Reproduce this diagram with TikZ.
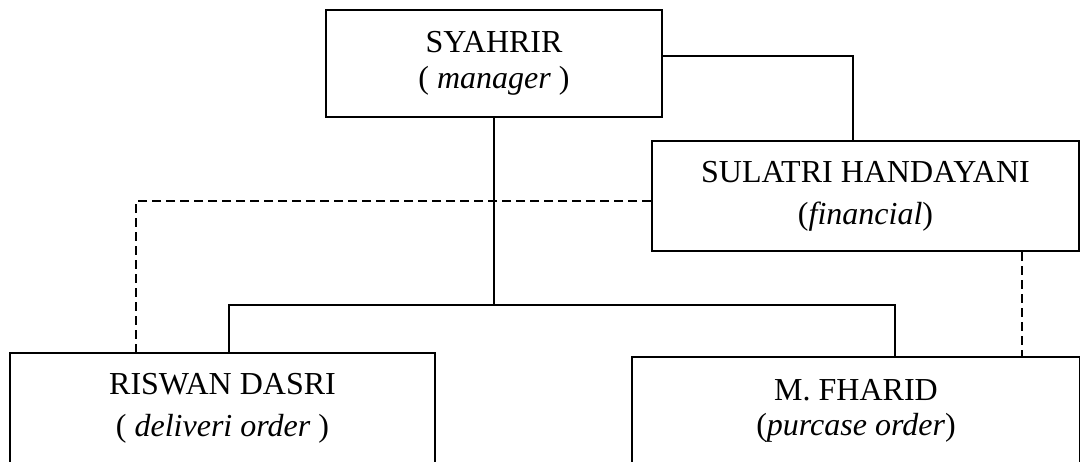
\documentclass[tikz,border=0pt]{standalone}
\usepackage{fontspec}
\setmainfont{Liberation Serif}
\usetikzlibrary{calc}

\begin{document}
\begin{tikzpicture}[
    x=0.5pt, y=-0.5pt,
    line width=1pt,
    person/.style={draw, rectangle, inner sep=0pt, align=center,
      font=\fontsize{16}{18}\selectfont},
    liaison/.style={dashed, dash pattern=on 4.5pt off 2.5pt}
  ]
  \useasboundingbox (0,0) rectangle (1080,461);
  \clip (0,0) rectangle (1080,461);

  % staff boxes
  \node[person, minimum width=168pt, minimum height=53.5pt] (sy) at (494,63.5)
    {SYAHRIR\\( \textit{manager} )};
  \node[person, minimum width=213.5pt, minimum height=55pt] (su) at (865.5,196)
    {SULATRI HANDAYANI\\[3pt](\textit{financial})};
  \node[person, minimum width=212.5pt, minimum height=55pt] (ri) at (222.5,408)
    {RISWAN DASRI\\[3pt]( \textit{deliveri order} )};
  \node[person, minimum width=224pt, minimum height=54pt] (fh) at (856,411)
    {M. FHARID\\[-0.5pt](\textit{purcase order})};

  % line of command
  \coordinate (bus) at (494,305);
  \draw ($(sy.east)+(0,-7.5)$) -| ($(su.north west)+(202,0)$);
  \draw (sy.south) -- (bus);
  \draw ($(ri.north west)+(220,0)$) |- (bus) -| ($(fh.north west)+(264,0)$);

  % coordination lines
  \draw[liaison] ($(su.west)+(0,5)$) -| ($(ri.north west)+(127,0)$);
  \draw[liaison] ($(su.south west)+(371,0)$) -- ($(fh.north west)+(391,0)$);
\end{tikzpicture}
\end{document}
